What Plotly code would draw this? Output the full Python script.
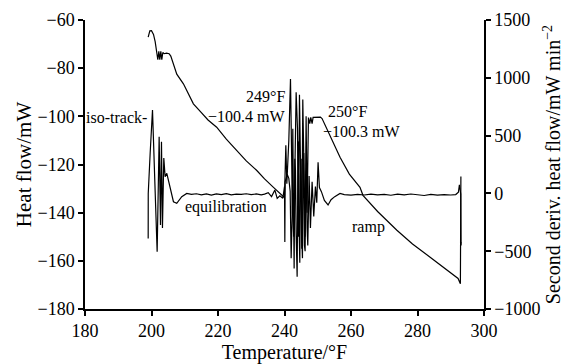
import plotly.graph_objects as go

# Heat flow curve (left axis, mW)
hf_temp = [199.0, 199.5, 200.0, 200.6, 201.1, 201.6, 201.9, 202.2, 202.5, 202.8, 203.1, 203.4,
           203.8, 204.5, 205.3, 205.8, 206.6, 207.6, 209.6, 211.0, 212.6, 215.0, 217.0, 219.6,
           222.5, 225.6, 228.5, 231.6, 234.0, 236.6, 238.6, 239.8,
           240.0, 240.4, 240.7, 241.3, 241.8, 242.4, 242.8, 243.1, 243.5, 243.9, 244.2, 244.5,
           244.9, 245.2, 245.5, 245.8, 246.2, 246.5, 246.8, 247.2, 247.6, 247.9, 248.3, 248.6,
           249.0, 250.0, 250.8, 251.3, 252.5, 254.5, 256.7, 259.5, 262.7, 263.6, 268.0, 273.8,
           278.5, 283.8, 288.0, 292.2, 292.9, 293.0, 293.05]
hf_vals = [-67.1, -64.5, -64.4, -66.0, -69.0, -72.7, -76.5, -73.0, -76.5, -73.0, -76.5, -73.5,
           -74.0, -73.8, -74.0, -75.0, -78.0, -82.5, -86.5, -90.5, -94.8, -98.5, -101.5, -104.5,
           -109.5, -114.1, -118.5, -122.4, -126.0, -129.4, -132.0, -133.5,
           -133.0, -112.0, -128.0, -110.0, -84.5, -140.0, -150.0, -118.0, -90.0, -105.0, -150.0, -91.0,
           -120.0, -155.0, -93.0, -125.0, -150.0, -100.0, -140.0, -100.5, -103.0, -100.4, -103.0, -100.4,
           -100.4, -100.3, -100.3, -100.9, -104.5, -111.0, -117.0, -124.0, -129.5, -132.8, -139.5, -147.3,
           -153.0, -158.5, -162.8, -167.3, -169.5, -150.0, -125.0]

# Second derivative of heat flow (right axis, mW min^-2)
d2_temp = [199.0, 199.02, 199.6, 200.3, 201.0, 201.7, 202.3, 202.7, 203.0, 203.3, 203.7, 204.1,
           204.6, 205.6, 206.6, 207.6, 208.4, 209.1, 210.6, 212.0, 213.5, 215.0, 216.5, 218.0,
           219.5, 221.0, 222.5, 224.0, 225.5, 227.0, 228.5, 230.0, 231.5, 233.0, 234.0, 235.1,
           236.1, 237.1, 237.8, 238.6, 239.5, 240.0, 240.1, 240.2, 240.8, 241.3, 241.7, 242.0,
           242.3, 242.5, 242.7, 242.9, 243.1, 243.3, 243.5, 243.8, 244.0, 244.2, 244.4, 244.6,
           244.8, 245.0, 245.2, 245.4, 245.6, 245.8, 246.0, 246.2, 246.4, 246.6, 246.8, 247.0,
           247.4, 247.8, 248.3, 248.8, 249.3, 249.7, 250.1, 250.5, 251.1, 252.0, 253.1, 254.0,
           255.1, 256.7, 258.0, 260.0, 262.0, 264.0, 266.0, 268.0, 270.0, 272.0, 274.0, 276.0,
           278.0, 280.0, 282.0, 284.0, 286.0, 288.0, 290.0, 291.5, 292.3, 292.6, 292.9, 293.0,
           293.1, 293.15]
d2_vals = [-390, 0, 350, 721, 100, -504, 490, -273, 447, -300, 306, 144,
           174, 60, -72, -86, -60, -28, 0, -8, -3, -12, -5, -14,
           -4, -10, -2, -12, -6, -9, -3, -10, -5, -12, -6, 6,
           -28, 29, -43, -20, -42, 60, -420, 100, 165, 130, 20, -560,
           -200, 560, -100, -650, 300, 200, -350, -720, 100, 450, -300, -600,
           150, 300, -400, -560, 250, 350, -450, -500, 50, 200, -300, -450,
           150, -300, 100, -200, 60, -80, 270, 50, 15, -60, -100, -55,
           -28, 0, -10, -15, -8, -14, -6, -12, -9, -16, -7, -13,
           -5, -12, -18, -8, -15, -10, -14, -10, 10, 75, 20, -5,
           -450, -420]

FONT = "Liberation Serif, Times New Roman, serif"

fig = go.Figure()
fig.add_trace(go.Scatter(x=hf_temp, y=hf_vals, mode="lines",
                         line=dict(color="black", width=1.2), yaxis="y", showlegend=False))
fig.add_trace(go.Scatter(x=d2_temp, y=d2_vals, mode="lines",
                         line=dict(color="black", width=1.2), yaxis="y2", showlegend=False))

ann_font = dict(family=FONT, size=16, color="black")
annotations = [
    dict(x=199.25, y=-100.5, text="iso-track-", xanchor="right", yanchor="middle"),
    dict(x=209.5, y=-137.8, text="equilibration", xanchor="left", yanchor="middle"),
    dict(x=240.6, y=-91.8, text="249°F", xanchor="right", yanchor="middle"),
    dict(x=240.6, y=-100.0, text="\u2212100.4 mW", xanchor="right", yanchor="middle"),
    dict(x=252.4, y=-98.0, text="250°F", xanchor="left", yanchor="middle"),
    dict(x=250.9, y=-106.5, text="\u2212100.3 mW", xanchor="left", yanchor="middle"),
    dict(x=259.6, y=-145.9, text="ramp", xanchor="left", yanchor="middle"),
]
for a in annotations:
    a.update(xref="x", yref="y", showarrow=False, font=ann_font)

axis_common = dict(showline=True, linecolor="black", linewidth=1.5, ticks="outside",
                   ticklen=5, tickwidth=1.5, tickcolor="black", showgrid=False, zeroline=False,
                   automargin=False,
                   tickfont=dict(family=FONT, size=18, color="black"))

fig.update_layout(
    width=564, height=364,
    margin=dict(l=85, r=80, t=20, b=55),
    paper_bgcolor="white", plot_bgcolor="white",
    xaxis=dict(range=[180, 300], dtick=20, tick0=180,
               title=dict(text="Temperature/°F", font=dict(family=FONT, size=20, color="black"),
                          standoff=4),
               **axis_common),
    yaxis=dict(range=[-180, -60], dtick=20, tick0=-180,
               title=dict(text="Heat flow/mW", font=dict(family=FONT, size=21, color="black"),
                          standoff=0),
               **axis_common),
    yaxis2=dict(range=[-1000, 1500], dtick=500, tick0=-1000, overlaying="y", side="right",
                anchor="x",
                title=dict(text="Second deriv. heat flow/mW min<sup>\u22122</sup>",
                           font=dict(family=FONT, size=20, color="black"), standoff=4),
                **axis_common),
    annotations=annotations,
)

fig.write_html("out.html")
